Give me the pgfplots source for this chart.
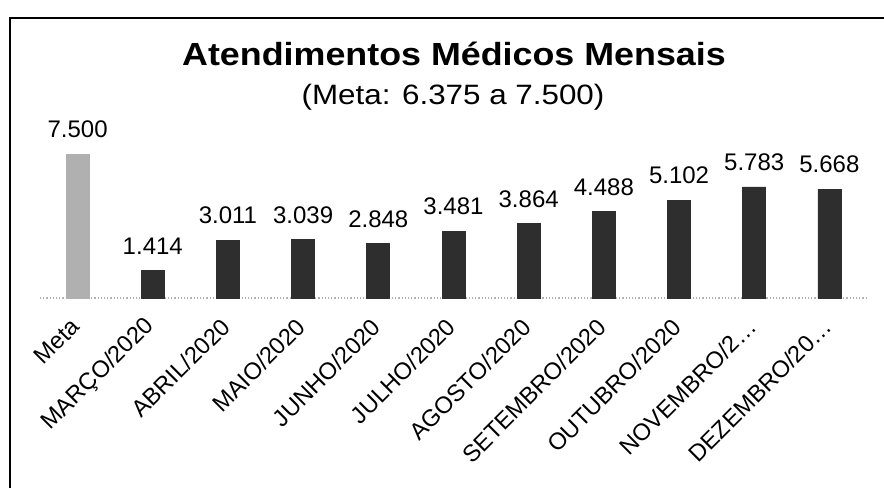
\documentclass[border=0pt]{standalone}
\usepackage{pgfplots}
\pgfplotsset{compat=1.18}
\usepackage{pgfplotstable}
\usepackage{graphicx}
\usepackage{fontspec}
\setmainfont{Liberation Sans}
\definecolor{metagray}{HTML}{B0B0B0}
\definecolor{bardark}{HTML}{2E2E2E}
\pgfplotstableread{
x y label
0 7500 7.500
}\metatable
\pgfplotstableread{
x y label
1 1414 1.414
2 3011 3.011
3 3039 3.039
4 2848 2.848
5 3481 3.481
6 3864 3.864
7 4488 4.488
8 5102 5.102
9 5783 5.783
10 5668 5.668
}\monthtable
\begin{document}
\begin{tikzpicture}
\useasboundingbox (0,0) rectangle (442pt,244pt);
\draw[line width=1pt] (5pt,0) -- (5pt,235pt) -- (442pt,235pt);
\node[anchor=base] at (227pt,211pt) {\bfseries\fontsize{16}{19}\selectfont\scalebox{1.12}[1]{Atendimentos Médicos Mensais}};
\node[anchor=base] at (226.5pt,191.5pt) {\fontsize{14}{17}\selectfont\scalebox{1.12}[1]{(Meta: 6.375 a 7.500)}};
\begin{axis}[
  at={(20pt,95pt)}, anchor=south west,
  scale only axis, width=413.5pt, height=76.8pt,
  xmin=-0.5, xmax=10.5, ymin=0, ymax=8000,
  axis line style={draw=none}, tick style={draw=none},
  ytick=\empty,
  xtick={0,...,10},
  xticklabels={Meta,MARÇO/2020,ABRIL/2020,MAIO/2020,JUNHO/2020,JULHO/2020,AGOSTO/2020,SETEMBRO/2020,OUTUBRO/2020,NOVEMBRO/2…,DEZEMBRO/20…},
  xticklabel style={xshift=-1pt, yshift=-8pt, rotate=45, anchor=east, inner sep=0pt, font=\fontsize{11.8}{13}\selectfont},
  ybar, bar width=11.5pt, bar shift=0pt,
  clip=false,
  point meta=explicit symbolic,
  nodes near coords,
  every node near coord/.append style={font=\fontsize{12}{14}\selectfont, anchor=south, yshift=4.5pt},
]
\draw[gray!60, densely dotted, line width=0.6pt] (axis cs:-0.5,0) -- (axis cs:10.5,0);
\addplot[fill=metagray, draw=metagray] table[x=x, y=y, meta=label] {\metatable};
\addplot[fill=bardark, draw=bardark] table[x=x, y=y, meta=label] {\monthtable};
\end{axis}
\end{tikzpicture}
\end{document}
